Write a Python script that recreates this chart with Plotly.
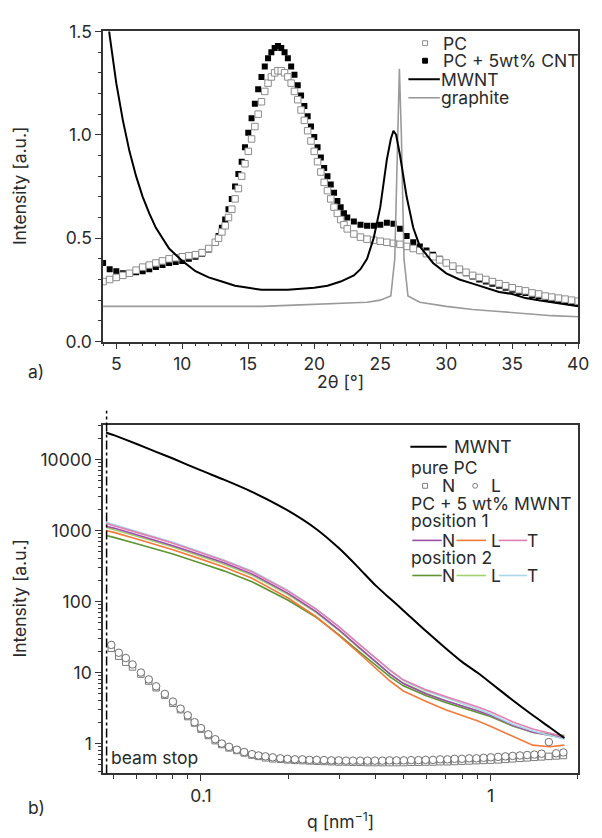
import plotly.graph_objects as go
import math

W, H = 602, 838

# ---------------- panel a) data ----------------
two_theta = [4.0, 4.5, 5.0, 5.5, 6.0, 6.5, 7.0, 7.5, 8.0, 8.5, 9.0, 9.5, 10.0, 10.5, 11.0, 11.5, 12.0, 12.5,
             12.75, 13.0, 13.25, 13.5, 13.75, 14.0, 14.25, 14.5, 14.75, 15.0, 15.25, 15.5, 15.75, 16.0, 16.25,
             16.5, 16.75, 17.0, 17.25, 17.5, 17.75, 18.0, 18.25, 18.5, 18.75, 19.0, 19.25, 19.5, 19.75, 20.0,
             20.25, 20.5, 20.75, 21.0, 21.25, 21.5, 21.75, 22.0, 22.25, 22.5,
             23.0, 23.5, 24.0, 24.5, 25.0, 25.5, 26.0, 26.5, 27.0, 27.5, 28.0, 28.5, 29.0, 29.5, 30.0, 30.5,
             31.0, 31.5, 32.0, 32.5, 33.0, 33.5, 34.0, 34.5, 35.0, 35.5, 36.0, 36.5, 37.0, 37.5, 38.0, 38.5,
             39.0, 39.5, 40.0]
pc_a = [0.29, 0.30, 0.31, 0.32, 0.33, 0.345, 0.36, 0.37, 0.38, 0.39, 0.40, 0.405, 0.41, 0.415, 0.42, 0.43, 0.45, 0.48,
        0.50, 0.53, 0.56, 0.60, 0.64, 0.69, 0.74, 0.80, 0.86, 0.92, 0.98, 1.04, 1.10, 1.16, 1.21,
        1.25, 1.28, 1.30, 1.31, 1.31, 1.30, 1.28, 1.25, 1.21, 1.17, 1.12, 1.07, 1.02, 0.97, 0.92,
        0.87, 0.82, 0.77, 0.73, 0.69, 0.65, 0.62, 0.59, 0.565, 0.545,
        0.52, 0.505, 0.495, 0.49, 0.485, 0.48, 0.475, 0.47, 0.46, 0.45, 0.44, 0.425, 0.41, 0.395, 0.38, 0.365,
        0.35, 0.335, 0.32, 0.31, 0.30, 0.29, 0.28, 0.27, 0.26, 0.25, 0.245, 0.235, 0.23, 0.22, 0.215, 0.21,
        0.205, 0.20, 0.195]
pc_cnt_a = [0.38, 0.35, 0.34, 0.33, 0.33, 0.335, 0.34, 0.35, 0.36, 0.37, 0.38, 0.385, 0.39, 0.40, 0.41, 0.425, 0.445, 0.48,
            0.51, 0.55, 0.59, 0.64, 0.69, 0.75, 0.81, 0.87, 0.94, 1.01, 1.08, 1.15, 1.22, 1.28, 1.33,
            1.37, 1.40, 1.42, 1.43, 1.42, 1.40, 1.37, 1.33, 1.29, 1.24, 1.19, 1.14, 1.09, 1.04, 0.99,
            0.94, 0.89, 0.84, 0.80, 0.76, 0.72, 0.68, 0.65, 0.62, 0.60,
            0.58, 0.565, 0.56, 0.56, 0.565, 0.575, 0.57, 0.545, 0.51, 0.48, 0.46, 0.44, 0.42, 0.40, 0.38, 0.36,
            0.345, 0.33, 0.315, 0.30, 0.29, 0.28, 0.27, 0.26, 0.25, 0.24, 0.235, 0.225, 0.22, 0.21, 0.205, 0.20,
            0.195, 0.19, 0.185]

mwnt_tt = [4.0, 4.5, 5.0, 5.5, 6.0, 6.5, 7.0, 7.5, 8.0, 8.5, 9.0, 9.5, 10.0, 11.0, 12.0, 13.0, 14.0, 15.0, 16.0,
           17.0, 18.0, 19.0, 20.0, 21.0, 22.0, 23.0, 23.5, 24.0, 24.5, 25.0, 25.5, 25.8, 26.0, 26.2, 26.5, 27.0,
           27.5, 28.0, 29.0, 30.0, 31.0, 32.0, 33.0, 34.0, 35.0, 36.0, 37.0, 38.0, 39.0, 40.0]
mwnt_a = [1.75, 1.48, 1.25, 1.07, 0.92, 0.80, 0.70, 0.62, 0.55, 0.50, 0.45, 0.42, 0.39, 0.34, 0.31, 0.29, 0.27, 0.26, 0.25,
          0.25, 0.25, 0.255, 0.26, 0.27, 0.29, 0.32, 0.35, 0.40, 0.50, 0.65, 0.88, 0.98, 1.02, 1.00, 0.90, 0.70,
          0.55, 0.46, 0.38, 0.33, 0.30, 0.28, 0.26, 0.24, 0.23, 0.21, 0.20, 0.19, 0.18, 0.17]

graphite_tt = [4.0, 6.0, 8.0, 10.0, 12.0, 14.0, 16.0, 18.0, 20.0, 22.0, 24.0, 25.0, 25.8, 26.1, 26.3, 26.45, 26.6,
               26.8, 27.1, 28.0, 30.0, 32.0, 34.0, 36.0, 38.0, 40.0]
graphite_a = [0.17, 0.17, 0.17, 0.17, 0.17, 0.17, 0.17, 0.175, 0.18, 0.185, 0.19, 0.20, 0.22, 0.40, 1.00, 1.32, 1.00,
              0.40, 0.22, 0.19, 0.17, 0.155, 0.145, 0.135, 0.125, 0.12]

# ---------------- panel b) data ----------------
q_lines = [0.047, 0.05, 0.06, 0.07, 0.08, 0.1, 0.12, 0.15, 0.2, 0.25, 0.3, 0.35, 0.4, 0.45, 0.5, 0.6, 0.7, 0.8,
           0.9, 1.0, 1.2, 1.4, 1.6, 1.8]
mwnt_b = [24000, 22000, 16500, 12800, 10300, 7000, 5200, 3500, 1900, 1050, 560, 300, 170, 110, 75, 38, 22, 14,
          10, 7.2, 4.0, 2.5, 1.7, 1.2]
pos1_N = [1150, 1080, 870, 720, 610, 450, 350, 245, 130, 72, 40, 23, 14.5, 9.5, 7.0, 5.0, 4.0, 3.4, 2.9, 2.5, 1.8, 1.45, 1.3, 1.2]
pos1_L = [1000, 940, 760, 630, 535, 395, 305, 212, 112, 61, 33, 19, 11.5, 7.6, 5.5, 3.9, 3.0, 2.5, 2.1, 1.75, 1.25, 0.95, 0.9, 0.95]
pos1_T = [1250, 1170, 940, 780, 660, 485, 375, 262, 140, 78, 44, 25.5, 16, 10.8, 7.9, 5.7, 4.6, 3.9, 3.3, 2.8, 2.0, 1.6, 1.4, 1.25]
pos2_N = [850, 800, 650, 545, 465, 345, 270, 190, 104, 60, 34, 20, 13, 8.7, 6.5, 4.7, 3.8, 3.2, 2.8, 2.4, 1.75, 1.45, 1.35, 1.3]
pos2_L = [1100, 1030, 830, 690, 585, 430, 335, 235, 125, 70, 39, 22.5, 14.2, 9.6, 7.1, 5.1, 4.0, 3.4, 2.9, 2.5, 1.8, 1.45, 1.3, 1.2]
pos2_T = [1300, 1210, 970, 800, 680, 500, 385, 270, 143, 79, 44, 25.5, 16, 10.6, 7.7, 5.5, 4.4, 3.7, 3.1, 2.6, 1.85, 1.5, 1.3, 1.15]

q_pc = [0.049, 0.052, 0.055, 0.058, 0.062, 0.066, 0.070, 0.075, 0.080, 0.085, 0.090, 0.095, 0.100, 0.106, 0.112,
        0.118, 0.125, 0.133, 0.141, 0.150, 0.158, 0.167, 0.177, 0.188, 0.199, 0.211, 0.224, 0.237, 0.251, 0.266,
        0.282, 0.299, 0.317, 0.335, 0.355, 0.376, 0.399, 0.423, 0.448, 0.474, 0.502, 0.532, 0.564, 0.597, 0.633,
        0.670, 0.710, 0.752, 0.797, 0.844, 0.894, 0.947, 1.003, 1.063, 1.126, 1.193, 1.264, 1.339, 1.418, 1.502,
        1.591, 1.686, 1.786]
pure_pc_N = [22, 17, 14, 12, 9.5, 7.6, 6.1, 4.8, 3.7, 3.0, 2.4, 1.95, 1.6, 1.3, 1.1, 0.97, 0.87, 0.8, 0.74, 0.69,
             0.66, 0.63, 0.61, 0.6, 0.59, 0.58, 0.575, 0.57, 0.565, 0.56, 0.555, 0.55, 0.55, 0.545, 0.545, 0.54,
             0.54, 0.54, 0.54, 0.54, 0.54, 0.545, 0.545, 0.55, 0.55, 0.555, 0.555, 0.56, 0.565, 0.57, 0.575,
             0.58, 0.585, 0.59, 0.6, 0.61, 0.62, 0.63, 0.64, 0.65, 0.66, 0.67, 0.68]
pure_pc_L = [24.5, 19, 16, 13, 10, 8.0, 6.4, 5.0, 3.9, 3.1, 2.5, 2.0, 1.65, 1.35, 1.15, 1.0, 0.9, 0.82, 0.76, 0.71,
             0.68, 0.66, 0.64, 0.62, 0.61, 0.6, 0.6, 0.59, 0.59, 0.585, 0.58, 0.58, 0.575, 0.575, 0.575, 0.575,
             0.575, 0.575, 0.58, 0.58, 0.58, 0.585, 0.585, 0.59, 0.59, 0.6, 0.6, 0.61, 0.61, 0.62, 0.62,
             0.63, 0.64, 0.65, 0.66, 0.67, 0.68, 0.69, 0.7, 0.72, 1.05, 0.73, 0.75]

# ---------------- helpers ----------------
def px(x):
    return x / W

def py(y):
    return 1 - y / H

TXT = "#2a2a2a"
FONT = "Inter, Liberation Sans, Arial, sans-serif"
FS = 17.5
FL = 17.5
AX = "#333333"

C_N1 = "#9a4fa6"
C_L1 = "#f07a3a"
C_T1 = "#e07fb4"
C_N2 = "#5f9435"
C_L2 = "#a3d16f"
C_T2 = "#a9d9e6"

fig = go.Figure()

# panel a
fig.add_trace(go.Scatter(x=two_theta, y=pc_cnt_a, mode="markers", xaxis="x", yaxis="y",
                         marker=dict(symbol="square", size=6, color="black", line=dict(width=0))))
fig.add_trace(go.Scatter(x=two_theta, y=pc_a, mode="markers", xaxis="x", yaxis="y",
                         marker=dict(symbol="square", size=6.5, color="white", line=dict(width=1, color="#8c8c8c"))))
fig.add_trace(go.Scatter(x=graphite_tt, y=graphite_a, mode="lines", xaxis="x", yaxis="y",
                         line=dict(color="#9a9a9a", width=1.6)))
fig.add_trace(go.Scatter(x=mwnt_tt, y=mwnt_a, mode="lines", xaxis="x", yaxis="y",
                         line=dict(color="black", width=2)))

# panel b
for ys, c in [(pos2_N, C_N2), (pos1_L, C_L1), (pos2_L, C_L2), (pos1_N, C_N1), (pos2_T, C_T2), (pos1_T, C_T1)]:
    fig.add_trace(go.Scatter(x=q_lines, y=ys, mode="lines", xaxis="x2", yaxis="y2",
                             line=dict(color=c, width=1.6)))
fig.add_trace(go.Scatter(x=q_lines, y=mwnt_b, mode="lines", xaxis="x2", yaxis="y2",
                         line=dict(color="black", width=2, shape="spline", smoothing=0.6)))
fig.add_trace(go.Scatter(x=q_pc, y=pure_pc_N, mode="markers", xaxis="x2", yaxis="y2",
                         marker=dict(symbol="square", size=6.5, color="white", line=dict(width=1, color="#7a7a7a"))))
fig.add_trace(go.Scatter(x=q_pc, y=pure_pc_L, mode="markers", xaxis="x2", yaxis="y2",
                         marker=dict(symbol="circle", size=7.5, color="white", line=dict(width=1, color="#6e6e6e"))))

axis_common = dict(showline=True, linecolor=AX, linewidth=1.6, mirror=True, showgrid=False, zeroline=False,
                   ticks="outside", ticklen=6, tickwidth=1.3, tickcolor=AX,
                   tickfont=dict(family=FONT, size=FS, color=TXT))

minor_log_x = [0.05, 0.06, 0.07, 0.08, 0.09, 0.2, 0.3, 0.4, 0.5, 0.6, 0.7, 0.8, 0.9, 2]
minor_log_y = [m * d for d in [0.1, 1, 10, 100, 1000, 10000] for m in range(2, 10)]

fig.update_layout(
    width=W, height=H, margin=dict(l=0, r=0, t=0, b=0),
    paper_bgcolor="white", plot_bgcolor="white", showlegend=False,
    xaxis=dict(domain=[px(105), px(589)], range=[4, 40], anchor="y",
               tickvals=[5, 10, 15, 20, 25, 30, 35, 40],
               minor=dict(dtick=1, tick0=0, ticks="outside", ticklen=3, tickcolor=AX, tickwidth=1), **axis_common),
    yaxis=dict(domain=[py(339), py(21)], range=[0, 1.5], anchor="x",
               tickvals=[0, 0.5, 1.0, 1.5], ticktext=["0.0", "0.5", "1.0", "1.5"],
               minor=dict(dtick=0.1, tick0=0, ticks="outside", ticklen=3, tickcolor=AX, tickwidth=1), **axis_common),
    xaxis2=dict(domain=[px(105), px(589)], type="log", range=[math.log10(0.0459), math.log10(2.01)], anchor="y2",
                tickvals=[0.1, 1], ticktext=["0.1", "1"],
                minor=dict(tickvals=minor_log_x, ticks="outside", ticklen=4, tickcolor=AX, tickwidth=1), **axis_common),
    yaxis2=dict(domain=[py(782), py(425)], type="log", range=[-0.42, 4.48], anchor="x2",
                tickvals=[1, 10, 100, 1000, 10000], ticktext=["1", "10", "100", "1000", "10000"],
                minor=dict(tickvals=minor_log_y, ticks="outside", ticklen=3, tickcolor=AX, tickwidth=1), **axis_common),
)

shapes = []
ann = []

def text(x, y, s, anchor="left", size=FL, angle=0):
    ann.append(dict(x=px(x), y=py(y), xref="paper", yref="paper", text=s, showarrow=False,
                    xanchor=anchor, yanchor="middle", textangle=angle, borderpad=0,
                    font=dict(family=FONT, size=size, color=TXT)))

def hline(x0, x1, y, color, width):
    shapes.append(dict(type="line", xref="paper", yref="paper", x0=px(x0), x1=px(x1), y0=py(y), y1=py(y),
                       line=dict(color=color, width=width)))

def square(cx, cy, s, fill, edge):
    shapes.append(dict(type="rect", xref="paper", yref="paper", x0=px(cx - s / 2), x1=px(cx + s / 2),
                       y0=py(cy + s / 2), y1=py(cy - s / 2), fillcolor=fill, line=dict(color=edge, width=1)))

def circle(cx, cy, s, fill, edge):
    shapes.append(dict(type="circle", xref="paper", yref="paper", x0=px(cx - s / 2), x1=px(cx + s / 2),
                       y0=py(cy + s / 2), y1=py(cy - s / 2), fillcolor=fill, line=dict(color=edge, width=1)))

# beam stop line
shapes.append(dict(type="line", xref="x2", yref="paper", x0=0.0472, x1=0.0472, y0=py(782), y1=py(410),
                   line=dict(color="black", width=1.5, dash="dashdot")))

# legend a
square(433, 33, 5, "white", "#8c8c8c")
text(450, 33, "PC")
square(433, 51, 5, "black", "black")
text(450, 51, "PC + 5wt% CNT")
hline(416, 448, 70, "black", 2)
text(448, 70, "MWNT")
hline(416, 448, 89, "#9a9a9a", 1.6)
text(448, 89, "graphite")

# legend b
hline(418, 455, 447, "black", 2)
text(461, 447, "MWNT")
text(418, 468, "pure PC")
square(433, 487, 5, "white", "#7a7a7a")
text(457, 487, "N", anchor="center")
circle(484, 487, 5, "white", "#7a7a7a")
text(505, 487, "L", anchor="center")
text(418, 505, "PC + 5 wt% MWNT")
text(418, 523, "position 1")
hline(420, 450, 543, C_N1, 1.6)
text(457, 543, "N", anchor="center")
hline(465, 495, 543, C_L1, 1.6)
text(505, 543, "L", anchor="center")
hline(508, 537, 543, C_T1, 1.6)
text(542, 543, "T", anchor="center")
text(418, 561, "position 2")
hline(420, 450, 579, C_N2, 1.6)
text(457, 579, "N", anchor="center")
hline(465, 495, 579, C_L2, 1.6)
text(505, 579, "L", anchor="center")
hline(508, 537, 579, C_T2, 1.6)
text(542, 579, "T", anchor="center")

# axis titles and panel labels
text(20, 180, "Intensity [a.u.]", anchor="center", angle=-90)
text(20, 603, "Intensity [a.u.]", anchor="center", angle=-90)
text(347, 380, "2θ [°]", anchor="center")
text(347, 830, "q [nm<sup>−1</sup>]", anchor="center")
text(27, 370, "a)")
text(27, 817, "b)")
text(112, 766, "beam stop")

fig.update_layout(shapes=shapes, annotations=ann)
fig.write_html("out.html")
